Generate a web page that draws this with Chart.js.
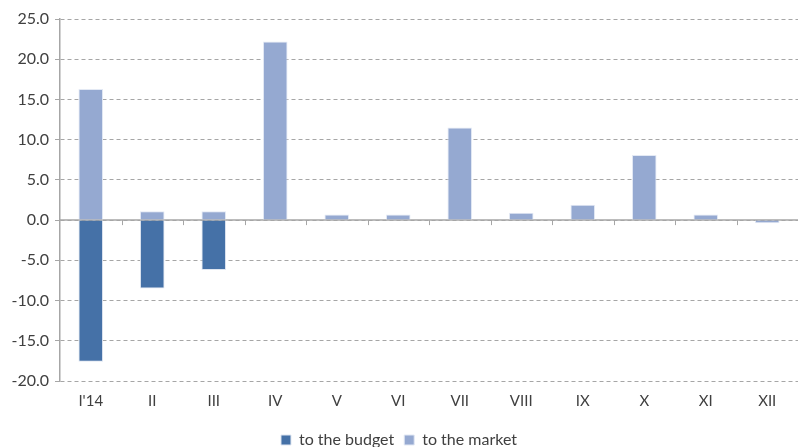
<!DOCTYPE html>
<html>
<head>
<meta charset="utf-8">
<script src="https://cdn.jsdelivr.net/npm/chart.js@4"></script>
<style>
  html, body { margin: 0; padding: 0; background: #fff; }
  #flows { display: block; }
</style>
</head>
<body>
<canvas id="flows" width="798" height="447"></canvas>
<script>
const months = ["I'14", 'II', 'III', 'IV', 'V', 'VI', 'VII', 'VIII', 'IX', 'X', 'XI', 'XII'];
const toBudget = [-17.6, -8.5, -6.2, 0, 0, 0, 0, 0, 0, 0, 0, 0];
const toMarket = [16.3, 1.1, 1.1, 22.2, 0.7, 0.7, 11.5, 0.9, 1.9, 8.1, 0.7, -0.4];

const axisGrey = '#a6a6a6';
const textGrey = '#404040';

// solid line at zero with small tick marks between months
const zeroAxis = {
  id: 'zeroAxis',
  beforeDatasetsDraw(chart) {
    const { ctx, chartArea, scales } = chart;
    const y0 = scales.y.getPixelForValue(0);
    ctx.save();
    ctx.strokeStyle = axisGrey;
    ctx.lineWidth = 1.5;
    ctx.beginPath();
    ctx.moveTo(chartArea.left, y0);
    ctx.lineTo(chartArea.right, y0);
    ctx.stroke();
    ctx.lineWidth = 1;
    for (let i = 1; i < months.length; i++) {
      const x = Math.round((scales.x.getPixelForValue(i - 1) + scales.x.getPixelForValue(i)) / 2) + 0.5;
      ctx.beginPath();
      ctx.moveTo(x, y0);
      ctx.lineTo(x, y0 + 5);
      ctx.stroke();
    }
    ctx.restore();
  }
};

new Chart(document.getElementById('flows'), {
  type: 'bar',
  data: {
    labels: months,
    datasets: [
      {
        label: 'to the budget',
        data: toBudget,
        backgroundColor: '#4571a7',
        borderColor: '#dfe6f1',
        borderWidth: 1,
      },
      {
        label: 'to the market',
        data: toMarket,
        backgroundColor: '#95a9d1',
        borderColor: '#e3e9f4',
        borderWidth: 1,
      },
    ],
  },
  options: {
    responsive: false,
    animation: false,
    layout: { padding: { top: 19, right: 0, left: 0, bottom: -11 } },
    datasets: { bar: { barPercentage: 0.4, categoryPercentage: 1.0 } },
    plugins: {
      legend: {
        position: 'bottom',
        labels: {
          boxWidth: 10,
          boxHeight: 10,
          padding: 10,
          color: textGrey,
          font: { family: 'Lato', size: 16 },
        },
      },
      tooltip: { enabled: false },
    },
    scales: {
      x: {
        stacked: true,
        grid: { display: false },
        border: { display: false },
        ticks: {
          color: textGrey,
          padding: 3,
          maxRotation: 0,
          font: { family: 'Lato', size: 15 },
        },
        afterFit: (scale) => { scale.height = 41; },
      },
      y: {
        stacked: true,
        min: -20,
        max: 25,
        ticks: {
          stepSize: 5,
          color: textGrey,
          padding: 6,
          font: { family: 'Lato', size: 16 },
          callback: (v) => v.toFixed(1),
        },
        grid: { color: axisGrey, tickLength: 5 },
        border: { display: true, color: axisGrey, width: 1.5, dash: [4, 3] },
        afterFit: (scale) => { scale.width = 60; },
      },
    },
  },
  plugins: [zeroAxis],
});
</script>
</body>
</html>
